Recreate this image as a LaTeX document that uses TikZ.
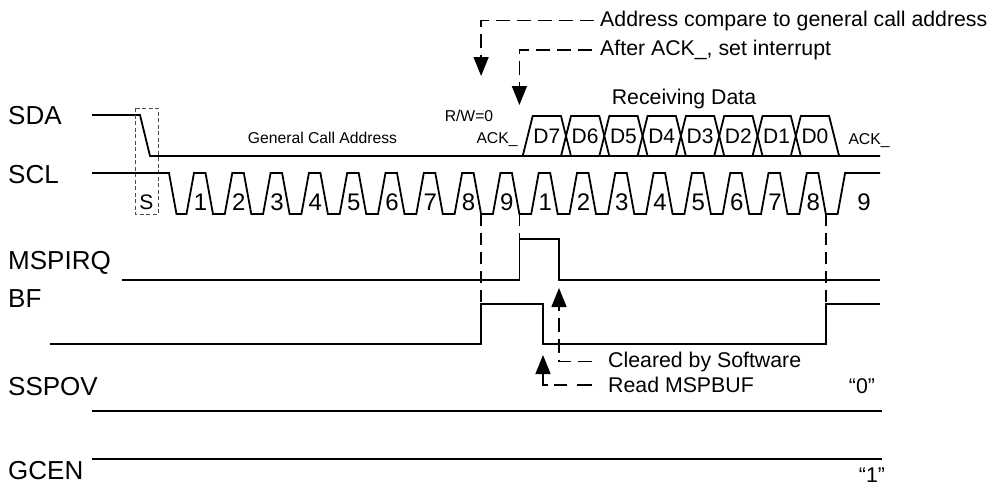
\documentclass[tikz,border=0pt]{standalone}
\usepackage{fontspec}
\setmainfont{Liberation Sans}
\usetikzlibrary{arrows.meta}

\begin{document}
\begin{tikzpicture}[
    x=1pt, y=-1pt,
    >={Triangle[length=19pt,width=15pt]},
    wave/.style={line width=1.8pt},
    guide/.style={line width=1.4pt, dash pattern=on 12pt off 7pt},
    callout/.style={line width=1.4pt, dash pattern=on 14pt off 7pt, ->},
    sbox/.style={line width=1pt, black!70, dash pattern=on 4pt off 2.5pt},
    signame/.style={anchor=base west, inner sep=0pt, font=\fontsize{26}{30}\selectfont},
    note/.style={inner sep=0pt, font=\fontsize{21.3}{25}\selectfont},
    tiny/.style={anchor=base, inner sep=0pt, font=\fontsize{15.7}{18}\selectfont},
    bitname/.style={anchor=base, inner sep=0pt, font=\fontsize{21}{25}\selectfont},
    clknum/.style={anchor=base, inner sep=0pt, font=\fontsize{24}{28}\selectfont}
  ]
  \useasboundingbox (0,0) rectangle (995,488);

  % signal names
  \node[signame] (sda) at (8,124) {SDA};
  \node[signame] (scl) at (8,183.5) {SCL};
  \node[signame] (irq) at (8,269.5) {MSPIRQ};
  \node[signame] (bf) at (8,307.5) {BF};
  \node[signame] (ov) at (8,395.5) {SSPOV};
  \node[signame] (gc) at (8,479.5) {GCEN};

  % SDA
  \draw[wave] (92,115) -- (140,115) -- (150,156) -- (880,156);
  \foreach \j in {0,...,7}
    \draw[wave] ({527.7+38.3*\j-5},156) -- ({527.7+38.3*\j+5},116)
      -- ({527.7+38.3*(\j+1)-5},116) -- ({527.7+38.3*(\j+1)+5},156);
  \foreach \b [count=\j from 0] in {7,6,5,4,3,2,1,0}
    \node[bitname] (d\b) at ({527.7+19.15+38.3*\j},143.5) {D\b};
  \node[tiny] (gca) at (322.5,143) {General Call Address};
  \node[tiny] (rw) at (469,121) {R/W=0};
  \node[tiny] (ack1) at (497,143) {ACK\_};
  \node[tiny] (ack2) at (869,144) {ACK\_};
  \node[note, anchor=base] (recv) at (684,104.5) {Receiving Data};

  % start condition
  \draw[sbox] (135,108) rectangle (158,214);
  \node[bitname] (start) at (146.5,209.5) {S};

  % SCL
  \draw[wave] (92,173) -- (169,173) -- (176.5,214) -- (186.5,214) -- (194,173)
    \foreach \k in {0,...,16} {
      -- ({194+38.3*\k+11.5},173) -- ({194+38.3*\k+19},214)
      -- ({194+38.3*\k+30.8},214) -- ({194+38.3*(\k+1)},173)
    } -- (880,173);
  \foreach \n [count=\k from 0] in {1,2,3,4,5,6,7,8,9,1,2,3,4,5,6,7,8}
    \node[clknum] (c\k) at ({194+38.3*\k+6.5},210.5) {\n};
  \node[clknum] (c17) at (864,210.5) {9};

  % guides
  \coordinate (g1) at (481.1,214);
  \coordinate (g2) at (519.4,214);
  \coordinate (g3) at (825.8,214);
  \draw[guide] (g1) -- ++(0,90);
  \draw[guide] (g2) -- ++(0,25);
  \draw[guide] (g3) -- ++(0,90);

  % MSPIRQ, BF, SSPOV, GCEN
  \draw[wave] (122,280) -- (519.4,280) -- (519.4,239) -- (559,239) -- (559,280) -- (880,280);
  \draw[wave] (50,344) -- (481.1,344) -- (481.1,304) -- (543,304) -- (543,344)
    -- (825.8,344) -- (825.8,304) -- (880,304);
  \draw[wave] (92,411) -- (882,411);
  \draw[wave] (92,459) -- (882,459);
  \node[note, anchor=base] (zero) at (862,393) {“0”};
  \node[note, anchor=base] (one) at (872,482) {“1”};

  % callouts
  \node[note, anchor=west] (cmp) at (600,20.5) {Address compare to general call address};
  \node[note, anchor=west] (aft) at (600,50) {After ACK\_, set interrupt};
  \node[note, anchor=west] (clr) at (608,361.5) {Cleared by Software};
  \node[note, anchor=west] (rd) at (608,385) {Read MSPBUF};
  \coordinate (cmptip) at (481.1,76);
  \coordinate (afttip) at (519.4,105);
  \coordinate (clrtip) at (559,288);
  \coordinate (rdtip) at (543,355);
  \draw[callout, shorten <=6pt] (cmp.west) -| (cmptip);
  \draw[callout, shorten <=8pt] (aft.west) -| (afttip);
  \draw[callout, shorten <=16pt] (clr.west) -| (clrtip);
  \draw[callout, shorten <=16pt, dash pattern=on 15pt off 10pt on 13pt off 6pt on 60pt]
    (rd.west) -| (rdtip);
\end{tikzpicture}
\end{document}
